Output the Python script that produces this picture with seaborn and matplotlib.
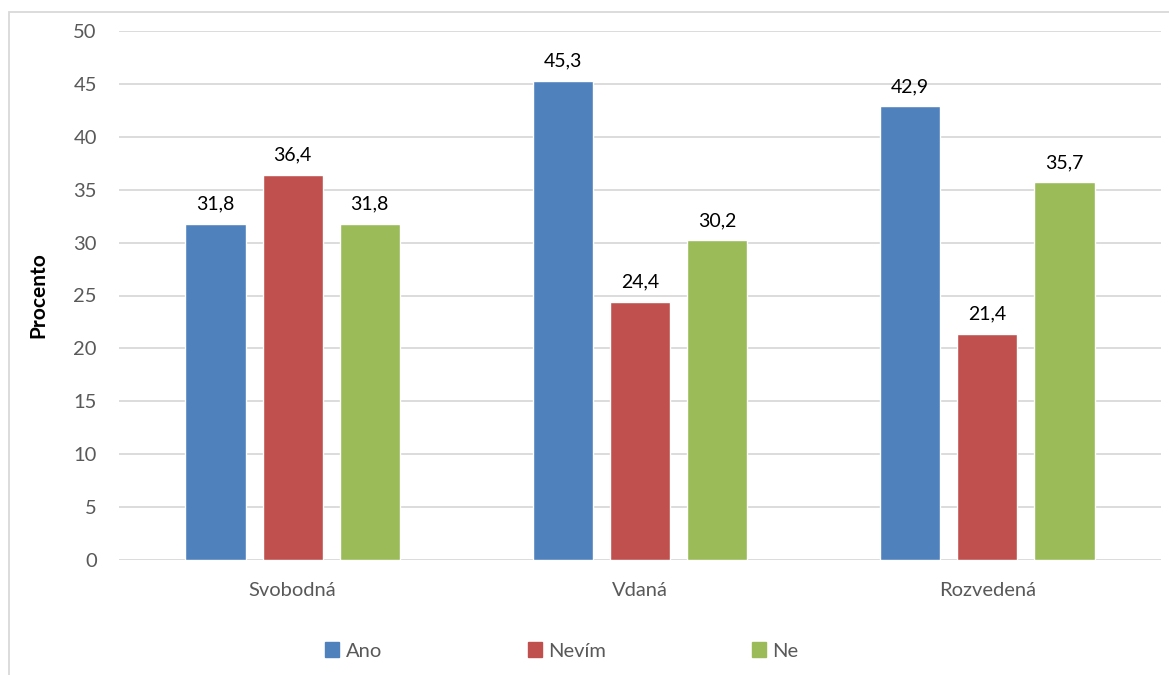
import pandas as pd
import numpy as np
import matplotlib.pyplot as plt
import seaborn as sns
from matplotlib.patches import Rectangle

# -----------------------------
# Data
# -----------------------------
categories = ["Svobodná", "Vdaná", "Rozvedená"]
series = ["Ano", "Nevím", "Ne"]
ano = [31.8, 45.3, 42.9]
nevim = [36.4, 24.4, 21.4]
ne = [31.8, 30.2, 35.7]
colors = ["#4F81BD", "#C0504D", "#9BBB59"]

df = pd.DataFrame({
    "kategorie": categories * 3,
    "odpoved": [s for s in series for _ in categories],
    "procento": ano + nevim + ne,
})

sns.set_style("white")
plt.rcParams['font.family'] = ['Lato', 'DejaVu Sans']

fig = plt.figure(figsize=(11.69, 6.75), dpi=100)
ax = fig.add_axes([119 / 1169, 1 - 560 / 675, 1042 / 1169, 529 / 675])

sns.barplot(data=df, x="kategorie", y="procento", hue="odpoved",
            order=categories, hue_order=series, palette=colors,
            width=0.666, gap=0.22, ax=ax, legend=False, saturation=1)

for cont in ax.containers:
    ax.bar_label(cont, labels=[f"{v:.1f}".replace(".", ",") for v in cont.datavalues],
                 padding=8, fontsize=14, color="black")

ax.set_xlim(-0.5, 2.5)
ax.set_ylim(0, 50)
ax.set_yticks(range(0, 51, 5))
ax.yaxis.grid(True, color="#D9D9D9", linewidth=1.3)
ax.set_axisbelow(True)
for s in ax.spines.values():
    s.set_visible(False)
ax.tick_params(axis="both", length=0, labelsize=14.5, colors="#595959")
ax.tick_params(axis="y", pad=16)
ax.tick_params(axis="x", pad=16)
ax.set_xlabel("")
ax.set_ylabel("Procento", fontsize=15, fontweight="bold", color="black", labelpad=18)

# legend
handles = [Rectangle((0, 0), 1, 1, color=c) for c in colors]
fig.legend(handles, series, loc="center", bbox_to_anchor=(0.4805, 1 - 651 / 675),
           ncol=3, frameon=False, fontsize=14.5, handlelength=0.7, handleheight=0.7,
           handletextpad=0.3, columnspacing=7.25, labelcolor="#595959")

# chart frame
fig.patches.append(Rectangle((9 / 1169, -0.1), 1.2, 1 - 12 / 675 + 0.1,
                             transform=fig.transFigure, fill=False,
                             edgecolor="#D9D9D9", linewidth=1.3))

plt.savefig("out.png", dpi=100)
